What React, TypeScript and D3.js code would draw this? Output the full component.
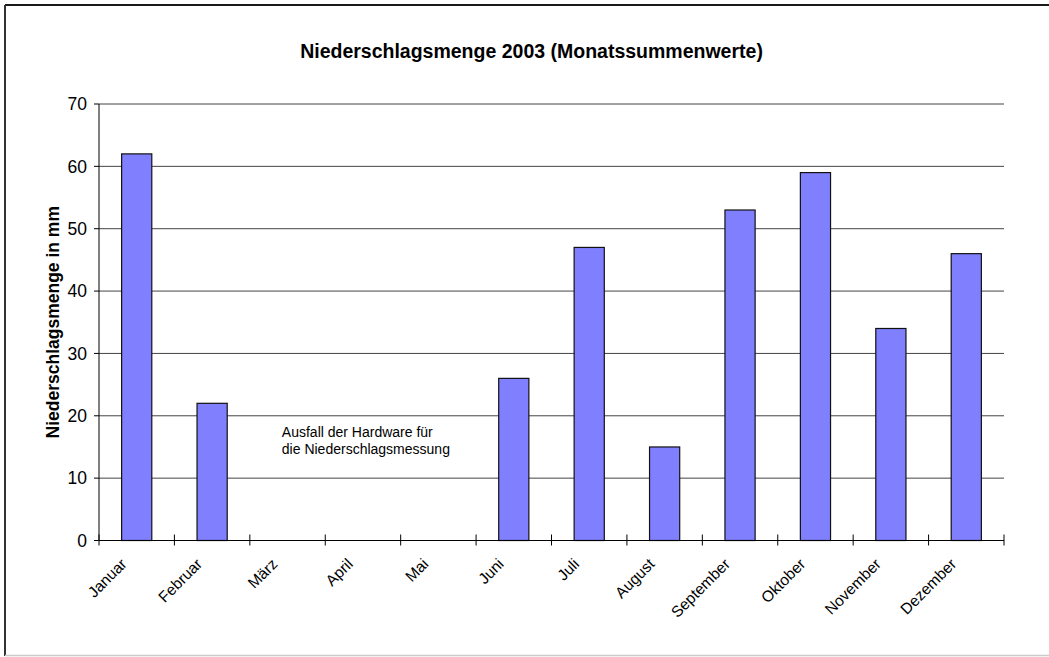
import { useEffect, useRef } from 'react'
import * as d3 from 'd3'

const months = ['Januar', 'Februar', 'März', 'April', 'Mai', 'Juni', 'Juli', 'August', 'September', 'Oktober', 'November', 'Dezember']
// null = no measurement (hardware failure)
const rainfall: (number | null)[] = [62, 22, null, null, null, 26, 47, 15, 53, 59, 34, 46]
const yTicks = [0, 10, 20, 30, 40, 50, 60, 70]
const noteLines = ['Ausfall der Hardware für', 'die Niederschlagsmessung']

const W = 1049
const H = 657
const PLOT = { left: 99, right: 1004, top: 104, bottom: 540.5 }
const FONT = '"Liberation Sans", Arial, sans-serif'

export default function App() {
  const svgRef = useRef<SVGSVGElement>(null)

  useEffect(() => {
    if (!svgRef.current) return
    const svg = d3.select(svgRef.current)
    svg.selectAll('*').remove()

    // chart frame: dark top/left, light bottom, right side runs off the page
    svg.append('line').attr('x1', 5).attr('x2', W).attr('y1', 5).attr('y2', 5)
      .attr('stroke', '#1a1a1a').attr('stroke-width', 2)
    svg.append('line').attr('x1', 5).attr('x2', 5).attr('y1', 5).attr('y2', 656)
      .attr('stroke', '#333').attr('stroke-width', 2)
    svg.append('line').attr('x1', 5).attr('x2', W).attr('y1', 655.5).attr('y2', 655.5)
      .attr('stroke', '#ccc').attr('stroke-width', 1.5)

    const x = d3.scaleBand<string>().domain(months).range([PLOT.left, PLOT.right]).paddingInner(0)
    const y = d3.scaleLinear().domain([0, 70]).range([PLOT.bottom, PLOT.top])
    const bw = x.bandwidth() * 0.4

    // grid lines
    svg.append('g').selectAll('line').data(yTicks.filter(t => t > 0)).join('line')
      .attr('x1', PLOT.left).attr('x2', PLOT.right)
      .attr('y1', d => y(d)).attr('y2', d => y(d))
      .attr('stroke', '#444').attr('stroke-width', 1)

    // bars
    const data = months.map((m, i) => ({ m, v: rainfall[i] })).filter(d => d.v != null)
    svg.append('g').selectAll('rect').data(data).join('rect')
      .attr('x', d => x(d.m)! + (x.bandwidth() - bw) / 2)
      .attr('y', d => y(d.v!))
      .attr('width', bw)
      .attr('height', d => y(0) - y(d.v!))
      .attr('fill', '#8080ff').attr('stroke', '#111').attr('stroke-width', 1.2)

    // y axis
    const yAxis = svg.append('g')
    yAxis.append('line')
      .attr('x1', PLOT.left).attr('x2', PLOT.left)
      .attr('y1', PLOT.top).attr('y2', PLOT.bottom).attr('stroke', '#000')
    yAxis.selectAll('line.tick').data(yTicks).join('line')
      .attr('class', 'tick')
      .attr('x1', PLOT.left - 5).attr('x2', PLOT.left)
      .attr('y1', d => y(d)).attr('y2', d => y(d)).attr('stroke', '#000')
    yAxis.selectAll('text').data(yTicks).join('text')
      .attr('x', 87).attr('y', d => y(d))
      .attr('dy', '0.36em').attr('text-anchor', 'end')
      .attr('font-family', FONT).attr('font-size', 17.5)
      .text(d => d)

    // x axis
    const xAxis = svg.append('g')
    xAxis.append('line')
      .attr('x1', PLOT.left).attr('x2', PLOT.right)
      .attr('y1', PLOT.bottom).attr('y2', PLOT.bottom).attr('stroke', '#000')
    const bounds = months.map(m => x(m)!).concat([PLOT.right])
    xAxis.selectAll('line.tick').data(bounds).join('line')
      .attr('class', 'tick')
      .attr('x1', d => d).attr('x2', d => d)
      .attr('y1', PLOT.bottom - 6).attr('y2', PLOT.bottom + 5).attr('stroke', '#000')
    xAxis.selectAll('text').data(months).join('text')
      .attr('transform', m => `translate(${x(m)! + x.bandwidth() / 2 - 9},565) rotate(-45)`)
      .attr('text-anchor', 'end')
      .attr('font-family', FONT).attr('font-size', 15.5)
      .text(m => m)

    // title
    svg.append('text')
      .attr('x', 531.5).attr('y', 58).attr('text-anchor', 'middle')
      .attr('font-family', FONT).attr('font-size', 19.5).attr('font-weight', 'bold')
      .text('Niederschlagsmenge 2003 (Monatssummenwerte)')

    // y label
    svg.append('text')
      .attr('transform', `translate(59,${(PLOT.top + PLOT.bottom) / 2}) rotate(-90)`)
      .attr('text-anchor', 'middle')
      .attr('font-family', FONT).attr('font-size', 17.5).attr('font-weight', 'bold')
      .text('Niederschlagsmenge in mm')

    // note for missing months
    svg.append('g').selectAll('text').data(noteLines).join('text')
      .attr('x', x('März')! + 32)
      .attr('y', (_, i) => y(16.6) + i * 17)
      .attr('font-family', FONT).attr('font-size', 14)
      .text(d => d)
  }, [])

  return (
    <svg ref={svgRef} width={W} height={H}
      style={{ position: 'absolute', left: 0, top: 0, display: 'block', background: '#fff' }} />
  )
}
